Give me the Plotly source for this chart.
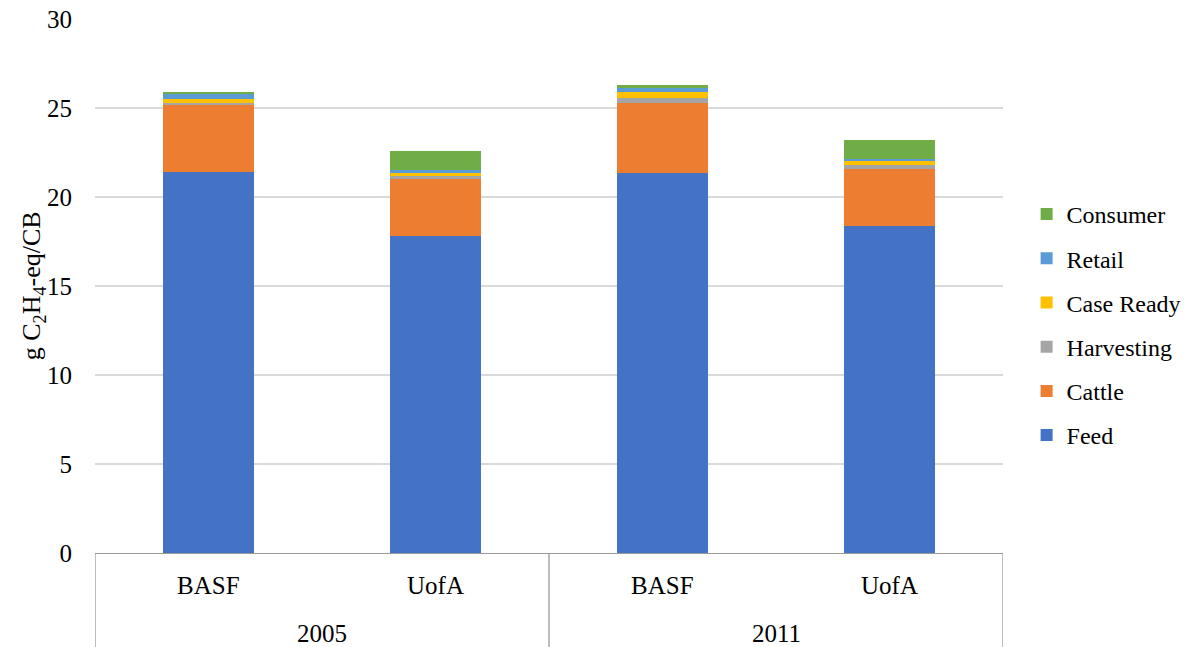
import plotly.graph_objects as go

years = ["2005", "2005", "2011", "2011"]
models = ["BASF", "UofA", "BASF", "UofA"]

feed = [21.39, 17.81, 21.37, 18.35]
cattle = [3.80, 3.20, 3.89, 3.24]
harvesting = [0.09, 0.15, 0.32, 0.19]
case_ready = [0.20, 0.24, 0.32, 0.26]
retail = [0.28, 0.09, 0.24, 0.10]
consumer = [0.15, 1.07, 0.15, 1.07]

series = [
    ("Feed", feed, "#4472C4"),
    ("Cattle", cattle, "#ED7D31"),
    ("Harvesting", harvesting, "#A5A5A5"),
    ("Case Ready", case_ready, "#FFC000"),
    ("Retail", retail, "#5B9BD5"),
    ("Consumer", consumer, "#70AD47"),
]

FONT = "Liberation Serif"
xs = list(range(len(models)))

fig = go.Figure()
n = len(series)
for k, (name, vals, col) in enumerate(series):
    fig.add_trace(go.Bar(
        x=xs, y=vals, name=name, marker=dict(color=col, line=dict(width=0)),
        legendgroup=name, legendrank=n - k,
    ))

# category labels
for i, m in enumerate(models):
    fig.add_annotation(x=i, y=-0.061, xref="x", yref="paper", text=m, showarrow=False,
                       font=dict(family=FONT, size=25, color="#000"), yanchor="middle")

groups = []
for i, y in enumerate(years):
    if not groups or groups[-1][0] != y:
        groups.append([y, i, i])
    else:
        groups[-1][2] = i
for y, a, b in groups:
    fig.add_annotation(x=(a + b) / 2, y=-0.15, xref="x", yref="paper", text=y, showarrow=False,
                       font=dict(family=FONT, size=25, color="#000"), yanchor="middle")

bounds = [groups[0][1] - 0.5] + [g[2] + 0.5 for g in groups]
for bx in bounds:
    fig.add_shape(type="line", xref="x", yref="paper", x0=bx, x1=bx, y0=0, y1=-0.18,
                  line=dict(color="#9a9a9a", width=1.3))

fig.add_annotation(x=-0.068, y=0.5, xref="paper", yref="paper",
                   text="g C<sub>2</sub>H<sub>4</sub>-eq/CB", textangle=-90, showarrow=False,
                   font=dict(family=FONT, size=26, color="#000"), xanchor="center", yanchor="middle")

fig.update_layout(
    barmode="stack",
    bargap=0.6,
    width=1198, height=647,
    margin=dict(l=95, r=195, t=19, b=94),
    plot_bgcolor="white", paper_bgcolor="white",
    font=dict(family=FONT, size=25, color="#000"),
    showlegend=True,
    legend=dict(x=1.026, xanchor="left", y=0.427, yanchor="middle",
                traceorder="grouped", tracegroupgap=10,
                font=dict(family=FONT, size=24, color="#000"),
                itemwidth=30, borderwidth=0, bgcolor="rgba(0,0,0,0)"),
    xaxis=dict(range=[-0.5, len(models) - 0.5], showticklabels=False, showgrid=False,
               zeroline=False, showline=True, linecolor="#9a9a9a", linewidth=1.3,
               automargin=False),
    yaxis=dict(range=[0, 30], dtick=5, showgrid=True, gridcolor="#d9d9d9", gridwidth=1.5,
               zeroline=False, showline=False, ticks="", ticklabelstandoff=22,
               automargin=False,
               tickfont=dict(family=FONT, size=25, color="#000")),
)

fig.write_html("out.html", config={"displayModeBar": False},
               post_script="document.body.style.margin='0';document.body.style.overflow='hidden';")
